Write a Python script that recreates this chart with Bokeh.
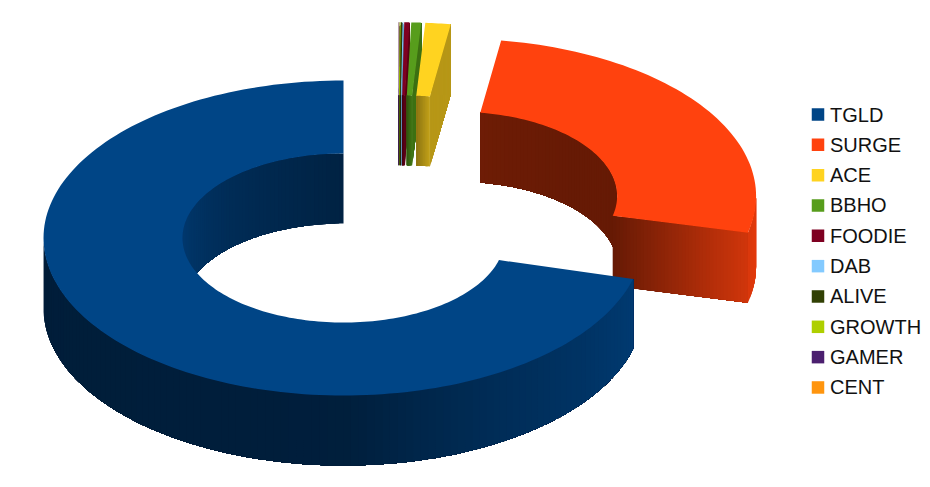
import numpy as np
from bokeh.plotting import figure
from bokeh.models import Range1d, ColumnDataSource
from bokeh.core.properties import value
from bokeh.embed import file_html
from bokeh.resources import INLINE

names = ["TGLD", "SURGE", "ACE", "BBHO", "FOODIE", "DAB", "ALIVE", "GROWTH", "GAMER", "CENT"]
shares = [70.8, 26.8, 1.36, 0.53, 0.28, 0.05, 0.08, 0.05, 0.04, 0.01]
colors = ["#004586", "#ff420e", "#ffd320", "#579d1c", "#7e0021", "#83caff", "#314004", "#aecf00", "#4b1f6f", "#ff950e"]

# ring geometry (screen-like data units)
CX, CY = 397.8, 215.5
RX, RY = 300.0, 157.5
IX, IY = 161.0, 84.5
DEPTH = 70.0
EXPLODE = 0.23
PERSPECTIVE_TRIM = 1.7  # the large exploded wedge's near edge looks slightly rotated


def mix(hex_color, f):
    r, g, b = [int(hex_color[i:i + 2], 16) for i in (1, 3, 5)]
    return "#%02x%02x%02x" % (int(r * f), int(g * f), int(b * f))


def inner_shade(a):
    a = a % 360
    return float(np.interp(a, [0, 40, 80, 90, 135, 180], [.40, .40, .43, .50, .65, .85]))


def outer_shade(a):
    a = a % 360
    return float(np.interp(a, [180, 270, 285, 300, 345, 360], [.43, .45, .56, .65, .85, .90]))


def pt(cx, cy, rx, ry, a, z=0.0):
    t = np.radians(a)
    return cx + rx * np.cos(t), cy - ry * np.sin(t) + z


def steps(a0, a1):
    n = max(2, int((a1 - a0) / 1.5) + 2)
    return np.linspace(a0, a1, n)


slices = []
start = 90.0
for n, v, c in zip(names, shares, colors):
    end = start + v * 3.6
    slices.append((n, start, end, c))
    start = end

xs, ys, fills = [], [], []


def add(qx, qy, col):
    xs.append(list(qx))
    ys.append(list(qy))
    fills.append(col)


def wall(cx, cy, rx, ry, ang, shade, col):
    """Overlapping strips: each one reaches to the far end of the wall, so no seams show."""
    for k in range(len(ang) - 1):
        tail = ang[k:]
        px, py = pt(cx, cy, rx, ry, tail)
        add(np.r_[px, px[::-1]], np.r_[py, py[::-1] + DEPTH], mix(col, shade((ang[k] + ang[k + 1]) / 2)))


for n, a0, a1, col in reversed(slices):
    m = np.radians((a0 + a1) / 2)
    cx = CX + EXPLODE * RX * np.cos(m)
    cy = CY - EXPLODE * RY * np.sin(m)
    small = (a1 - a0) < 40
    if n == names[1]:
        a0 += PERSPECTIVE_TRIM
    if small:
        ang = np.linspace(a0, a1, 9)
    else:
        ang = steps(a0, a1)
    # inner wall
    vis = ang[np.sin(np.radians(ang)) >= -1e-9]
    if len(vis) > 1:
        if small:
            span0, span1 = a0, a1
            shade = lambda a: .55 + .22 * (span1 - a) / (span1 - span0)
        else:
            shade = inner_shade
        wall(cx, cy, IX, IY, vis, shade, col)
    # radial face at the clockwise end
    if np.cos(np.radians(a0)) > 0.001:
        r = np.linspace(0, 1, 40)
        for u, w in zip(r[:-1], r[1:]):
            p0 = pt(cx, cy, IX + (RX - IX) * u, IY + (RY - IY) * u, a0)
            p1 = pt(cx, cy, RX, RY, a0)
            f = .72 if small else .40 + .42 * (u + w) / 2
            add([p0[0], p1[0], p1[0], p0[0]], [p0[1], p1[1], p1[1] + DEPTH, p0[1] + DEPTH], mix(col, f))
    # outer wall
    vis = ang[np.sin(np.radians(ang)) <= 1e-9]
    if len(vis) > 1:
        wall(cx, cy, RX, RY, vis, outer_shade, col)
    # top surface
    ox, oy = pt(cx, cy, RX, RY, ang)
    ix, iy = pt(cx, cy, IX, IY, ang[::-1])
    add(np.r_[ox, ix], np.r_[oy, iy], col)

p = figure(width=922, height=479, x_range=Range1d(0, 922), y_range=Range1d(479, 0),
           output_backend="svg", toolbar_location=None, min_border=0,
           outline_line_color=None, background_fill_color="white", border_fill_color="white")
p.xaxis.visible = False
p.yaxis.visible = False
p.grid.visible = False

p.patches("x", "y", source=ColumnDataSource(dict(x=xs, y=ys, c=fills)),
          fill_color="c", line_color=None)

leg_y = [114 + i * 30.33 for i in range(len(names))]
p.scatter([817.5] * len(names), leg_y, marker="square", size=12.5, fill_color=colors, line_color=None)
p.text([829.5] * len(names), leg_y, text=names, text_baseline="middle", text_align="left",
       text_font=value("Liberation Sans"), text_font_size="20px", text_color="#111111")

open("out.html", "w").write(file_html(p, INLINE))
